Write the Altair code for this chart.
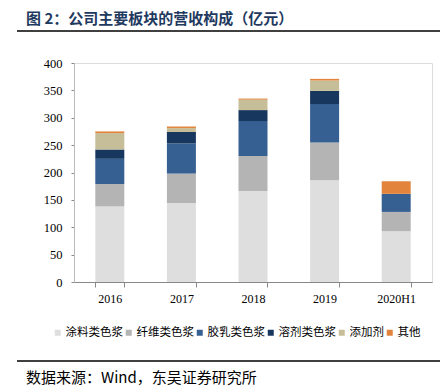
import altair as alt
import pandas as pd

years = ["2016", "2017", "2018", "2019", "2020H1"]
series = ["涂料类色浆", "纤维类色浆", "胶乳类色浆", "溶剂类色浆", "添加剂", "其他"]
colors = ["#DEDEDE", "#B4B4B4", "#376092", "#17375E", "#C6BE98", "#E2843C"]
coating = [138, 144, 166, 186, 93]
fiber = [41, 54, 64, 69, 35]
latex = [46, 55, 64, 70, 33]
solvent = [17, 21, 20, 24, 0]
additive = [30, 7, 19, 19, 0]
other = [3, 3, 2, 3, 23]

vals = [coating, fiber, latex, solvent, additive, other]
rows = []
for si, (s, v) in enumerate(zip(series, vals)):
    for y, val in zip(years, v):
        if val > 0:
            rows.append({"year": y, "series": s, "value": val, "idx": si})
df = pd.DataFrame(rows)

W, H = 358, 219
CJK = "Noto Sans CJK SC"

bars = alt.Chart(df).mark_bar(size=29).encode(
    x=alt.X("year:N", sort=years, title=None,
            scale=alt.Scale(paddingInner=0.6, paddingOuter=0.3),
            axis=alt.Axis(labelAngle=0, tickBand="extent", labelFont="Liberation Serif",
                          labelFontSize=12, labelColor="#000", domainColor="#888",
                          tickColor="#888", tickSize=5, labelPadding=6)),
    y=alt.Y("value:Q", title=None, stack="zero",
            scale=alt.Scale(domain=[0, 400]),
            axis=alt.Axis(values=list(range(0, 401, 50)), grid=False, labelFont="Liberation Serif",
                          labelFontSize=12.5, labelColor="#000", domainColor="#BBB",
                          tickColor="#888", tickSize=3, labelPadding=9)),
    color=alt.Color("series:N", sort=series,
                    scale=alt.Scale(domain=series, range=colors),
                    legend=alt.Legend(orient="none", direction="horizontal", columns=6,
                                      gridAlign="none",
                                      legendX=-22, legendY=264, title=None,
                                      symbolType="square", symbolSize=36, symbolStrokeWidth=0,
                                      labelFont=CJK, labelFontSize=11.5, labelColor="#000",
                                      columnPadding=0, symbolOffset=0, labelOffset=2)),
    order=alt.Order("idx:Q", sort="ascending"),
)

title_df = pd.DataFrame({"t": ["图 2：公司主要板块的营收构成（亿元）"]})
title = alt.Chart(title_df).mark_text(align="left", baseline="middle", font=CJK,
                                      fontSize=15, fontWeight="bold", color="#1F3A60").encode(
    text="t:N", x=alt.value(-48), y=alt.value(-44))

src_df = pd.DataFrame({"t": ["数据来源：Wind，东吴证券研究所"]})
src = alt.Chart(src_df).mark_text(align="left", baseline="middle", font=CJK,
                                  fontSize=15, color="#000").encode(
    text="t:N", x=alt.value(-48), y=alt.value(315))

line1 = alt.Chart(title_df).mark_rule(color="#000", strokeWidth=1.5).encode(
    x=alt.value(-57), x2=alt.value(367), y=alt.value(-32))
line2 = alt.Chart(title_df).mark_rule(color="#000", strokeWidth=1.5).encode(
    x=alt.value(-57), x2=alt.value(367), y=alt.value(298))

chart = alt.layer(bars, title, src, line1, line2).properties(
    width=W, height=H,
    autosize=alt.AutoSizeParams(type="none"),
    padding={"left": 66, "top": 55, "right": 8, "bottom": 112},
).configure_view(stroke=None).configure(background="#FFFFFF")

chart.save("out.html", embed_options={"renderer": "svg", "actions": False})
